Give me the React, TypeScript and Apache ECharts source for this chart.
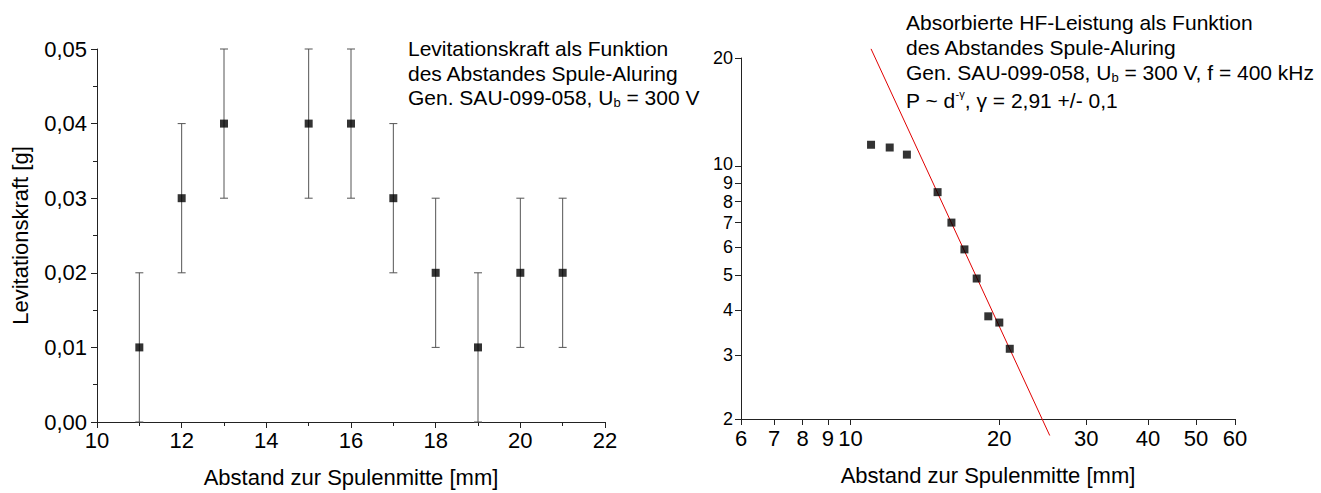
import React, { useEffect, useRef } from "react";
import * as echarts from "echarts";

// ---- Data (left chart: levitation force) ----
const distances = [11, 12, 13, 15, 16, 17, 18, 19, 20, 21];
const levForce = [0.01, 0.03, 0.04, 0.04, 0.04, 0.03, 0.02, 0.01, 0.02, 0.02];
const levError = [0.01, 0.01, 0.01, 0.01, 0.01, 0.01, 0.01, 0.01, 0.01, 0.01];

// ---- Data (right chart: absorbed HF power, log-log) ----
const powerDist = [11, 12, 13, 15, 16, 17, 18, 19, 20, 21];
const power = [11.5, 11.3, 10.8, 8.5, 7.0, 5.9, 4.9, 3.85, 3.7, 3.13];
const fitX = [11.0, 25.3];
const fitY = [21.2, 1.8];

// ---- Tick labels ----
const rightXTicks = [6, 7, 8, 9, 10, 20, 30, 40, 50, 60];
const rightYTicks = [2, 3, 4, 5, 6, 7, 8, 9, 10, 20];

const leftNoteLines = ["Levitationskraft als Funktion", "des Abstandes Spule-Aluring"];
const rightNoteLines = ["Absorbierte HF-Leistung als Funktion", "des Abstandes Spule-Aluring"];
const xAxisTitle = "Abstand zur Spulenmitte [mm]";
const yAxisTitleLeft = "Levitationskraft [g]";

const FONT = "'Liberation Sans', Arial, sans-serif";
const AXIS_COLOR = "#222";

export default function App() {
  const ref = useRef<HTMLDivElement>(null);

  useEffect(() => {
    if (!ref.current) return;
    const chart = echarts.init(ref.current, null, { renderer: "svg" });

    const axisLine = { show: true, lineStyle: { color: AXIS_COLOR, width: 1 } };
    const labelStyle = { color: "#000", fontSize: 22, fontFamily: FONT };
    const noteRich = {
      a: { fontSize: 21, fontFamily: FONT, color: "#000", lineHeight: 24 },
      sub: { fontSize: 13, fontFamily: FONT, color: "#000", lineHeight: 6, verticalAlign: "bottom" },
      sup: { fontSize: 11, fontFamily: FONT, color: "#000", lineHeight: 8, verticalAlign: "top" },
    };

    const mkText = (x: number, y: number, text: string) => ({
      type: "text",
      x,
      y,
      style: {
        text,
        rich: noteRich,
        fill: "#000",
        font: `21px ${FONT}`,
        verticalAlign: "middle",
        align: "left",
      },
    });

    const option: any = {
      animation: false,
      backgroundColor: "#fff",
      grid: [
        { left: 97, right: 716, top: 49, bottom: 70, containLabel: false },
        { left: 741, right: 86, top: 58, bottom: 74, containLabel: false },
      ],
      xAxis: [
        {
          type: "value",
          gridIndex: 0,
          min: 10,
          max: 22,
          interval: 2,
          axisLine,
          axisTick: { show: true, length: 6, lineStyle: { color: AXIS_COLOR } },
          minorTick: { show: true, splitNumber: 2, length: 4, lineStyle: { color: AXIS_COLOR } },
          splitLine: { show: false },
          axisLabel: { ...labelStyle, margin: 7 },
          name: xAxisTitle,
          nameLocation: "middle",
          nameGap: 44,
          nameTextStyle: { fontSize: 22, fontFamily: FONT, color: "#000" },
        },
        {
          type: "log",
          gridIndex: 1,
          logBase: 10,
          min: 6,
          max: 60,
          axisLine,
          axisTick: { show: true, length: 6, lineStyle: { color: AXIS_COLOR }, customValues: rightXTicks },
          splitLine: { show: false },
          axisLabel: { ...labelStyle, margin: 8, customValues: rightXTicks },
          name: xAxisTitle,
          nameLocation: "middle",
          nameGap: 45,
          nameTextStyle: { fontSize: 22, fontFamily: FONT, color: "#000" },
        },
      ],
      yAxis: [
        {
          type: "value",
          gridIndex: 0,
          min: 0,
          max: 0.05,
          interval: 0.01,
          axisLine,
          axisTick: { show: true, length: 6, lineStyle: { color: AXIS_COLOR } },
          minorTick: { show: true, splitNumber: 2, length: 4, lineStyle: { color: AXIS_COLOR } },
          splitLine: { show: false },
          axisLabel: {
            ...labelStyle,
            margin: 10,
            formatter: (v: number) => v.toFixed(2).replace(".", ","),
          },
          name: yAxisTitleLeft,
          nameLocation: "middle",
          nameGap: 66,
          nameTextStyle: { fontSize: 22, fontFamily: FONT, color: "#000" },
        },
        {
          type: "log",
          gridIndex: 1,
          logBase: 10,
          min: 2,
          max: 20,
          axisLine,
          axisTick: { show: true, length: 6, lineStyle: { color: AXIS_COLOR }, customValues: rightYTicks },
          splitLine: { show: false },
          axisLabel: {
            ...labelStyle,
            fontSize: 18,
            margin: 8,
            customValues: rightYTicks,
            formatter: (v: number) => (Math.round(v) === 10 ? `{up|${Math.round(v)}}` : `${Math.round(v)}`),
            rich: {
              up: { fontSize: 18, fontFamily: FONT, color: "#000", padding: [0, 0, 6, 0] },
            },
          },
        },
      ],
      series: [
        {
          type: "custom",
          xAxisIndex: 0,
          yAxisIndex: 0,
          data: distances.map((d, i) => [d, levForce[i] - levError[i], levForce[i] + levError[i]]),
          encode: { x: 0, y: [1, 2] },
          renderItem: (params: any, api: any) => {
            const x = api.value(0);
            const lo = api.coord([x, api.value(1)]);
            const hi = api.coord([x, api.value(2)]);
            const st = { stroke: "#555", lineWidth: 1 };
            const hw = 4;
            return {
              type: "group",
              children: [
                { type: "line", shape: { x1: lo[0], y1: lo[1], x2: hi[0], y2: hi[1] }, style: st },
                { type: "line", shape: { x1: hi[0] - hw, y1: hi[1], x2: hi[0] + hw, y2: hi[1] }, style: st },
                { type: "line", shape: { x1: lo[0] - hw, y1: lo[1], x2: lo[0] + hw, y2: lo[1] }, style: st },
              ],
            };
          },
          z: 2,
        },
        {
          type: "scatter",
          xAxisIndex: 0,
          yAxisIndex: 0,
          symbol: "rect",
          symbolSize: 8,
          itemStyle: { color: "#000" },
          data: distances.map((d, i) => [d, levForce[i]]),
          z: 3,
        },
        {
          type: "line",
          xAxisIndex: 1,
          yAxisIndex: 1,
          clip: false,
          showSymbol: false,
          symbol: "none",
          lineStyle: { color: "#e00000", width: 1 },
          data: fitX.map((x, i) => [x, fitY[i]]),
          z: 2,
        },
        {
          type: "scatter",
          xAxisIndex: 1,
          yAxisIndex: 1,
          symbol: "rect",
          symbolSize: 8,
          itemStyle: { color: "#000" },
          data: powerDist.map((d, i) => [d, power[i]]),
          z: 3,
        },
      ],
      graphic: [
        mkText(408, 48, `{a|${leftNoteLines[0]}}`),
        mkText(408, 73, `{a|${leftNoteLines[1]}}`),
        mkText(408, 97, "{a|Gen. SAU-099-058, U}{sub|b}{a| = 300 V}"),
        mkText(906, 22, `{a|${rightNoteLines[0]}}`),
        mkText(906, 47, `{a|${rightNoteLines[1]}}`),
        mkText(906, 72, "{a|Gen. SAU-099-058, U}{sub|b}{a| = 300 V, f = 400 kHz}"),
        mkText(906, 100, "{a|P ~ d}{sup|-γ}{a|, γ = 2,91 +/- 0,1}"),
      ],
    };

    chart.setOption(option);
    return () => chart.dispose();
  }, []);

  return (
    <div
      ref={ref}
      style={{ position: "absolute", left: 0, top: 0, width: 1321, height: 493, background: "#fff" }}
    />
  );
}
